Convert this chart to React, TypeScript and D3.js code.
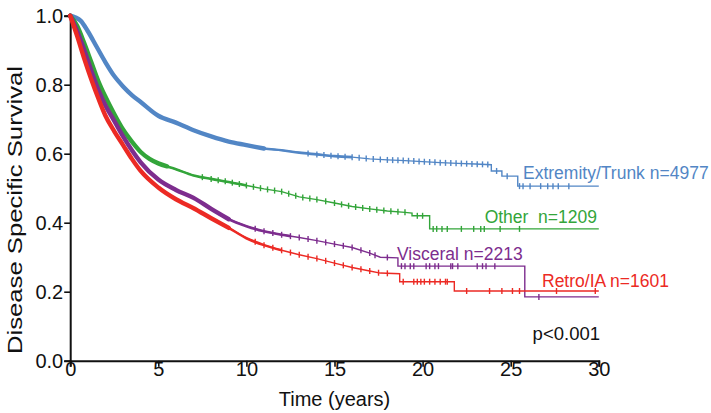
import React, { useRef, useEffect } from "react";
import * as d3 from "d3";

// Kaplan-Meier curves, values
const extremityTime = [0, 0.3, 0.6, 1, 1.5, 2, 2.5, 3, 3.5, 4, 5, 6, 7, 8, 9, 10, 11, 12, 13, 14, 15, 16, 17, 18, 19, 20, 21, 22, 23, 23.9, 23.9, 24.5, 24.5, 25.4, 25.4, 30];
const extremitySurv = [1, 0.995, 0.985, 0.955, 0.91, 0.865, 0.825, 0.795, 0.77, 0.75, 0.71, 0.69, 0.668, 0.65, 0.635, 0.625, 0.615, 0.61, 0.603, 0.598, 0.593, 0.59, 0.585, 0.582, 0.58, 0.577, 0.574, 0.572, 0.57, 0.568, 0.55, 0.55, 0.535, 0.535, 0.506, 0.506];
const extremityCensor = [13.5, 14, 14.4, 14.8, 15.2, 15.6, 16, 16.4, 16.8, 17.2, 17.6, 18, 18.3, 18.6, 18.9, 19.2, 19.5, 19.8, 20.1, 20.4, 20.7, 21, 21.3, 21.6, 21.9, 22.2, 22.5, 22.8, 23.1, 23.4, 23.7, 24.2, 24.8, 25.5, 25.7, 26.1, 26.7, 27.1, 27.4, 27.7, 28.3];

const otherTime = [0, 0.4, 0.8, 1.2, 1.6, 2, 2.5, 3, 3.5, 4, 4.5, 5, 6, 7, 8, 9, 10, 11, 12, 13, 14, 15, 16, 17, 18, 19, 19.4, 19.4, 20.4, 20.4, 30];
const otherSurv = [1, 0.97, 0.92, 0.865, 0.81, 0.765, 0.715, 0.67, 0.635, 0.605, 0.585, 0.572, 0.555, 0.537, 0.527, 0.518, 0.508, 0.498, 0.49, 0.475, 0.467, 0.457, 0.447, 0.44, 0.434, 0.43, 0.428, 0.42, 0.42, 0.382, 0.382];
const otherCensor = [7.5, 8, 8.4, 8.8, 9.2, 9.6, 10, 10.4, 10.8, 11.2, 11.6, 12, 12.4, 12.8, 13.2, 13.6, 14, 14.5, 15, 15.4, 15.8, 16.2, 16.6, 17, 17.4, 17.8, 18.2, 18.6, 19, 19.7, 20, 20.6, 20.8, 21.1, 21.4, 22.2, 22.9, 23.3, 23.5, 24.4, 25.5];

const visceralTime = [0, 0.4, 0.8, 1.2, 1.6, 2, 2.5, 3, 3.5, 4, 5, 6, 7, 8, 9, 10, 11, 12, 13, 14, 15, 16, 17, 17.6, 18.6, 18.6, 25.8, 25.8, 30];
const visceralSurv = [1, 0.955, 0.9, 0.84, 0.785, 0.74, 0.695, 0.65, 0.61, 0.575, 0.525, 0.495, 0.472, 0.44, 0.41, 0.39, 0.375, 0.365, 0.357, 0.348, 0.338, 0.328, 0.312, 0.3, 0.298, 0.274, 0.274, 0.185, 0.185];
const visceralCensor = [10.5, 11, 11.5, 12, 12.5, 13, 13.5, 14, 14.5, 15, 15.5, 16, 16.5, 17, 17.3, 18, 18.8, 19, 19.3, 19.5, 20.2, 20.4, 20.7, 20.9, 21.6, 21.7, 22, 23.1, 23.4, 23.6, 24.1, 26.6];

const retroTime = [0, 0.4, 0.8, 1.2, 1.6, 2, 2.5, 3, 3.5, 4, 5, 6, 7, 8, 9, 10, 11, 12, 13, 14, 15, 16, 17, 17.6, 18.7, 18.7, 21.8, 21.8, 30];
const retroSurv = [1, 0.94, 0.875, 0.815, 0.76, 0.71, 0.665, 0.625, 0.585, 0.55, 0.502, 0.468, 0.442, 0.413, 0.385, 0.355, 0.335, 0.32, 0.307, 0.296, 0.283, 0.27, 0.26, 0.254, 0.252, 0.229, 0.229, 0.202, 0.202];
const retroCensor = [10.5, 11, 11.5, 12, 12.5, 13, 13.5, 14, 14.5, 15, 15.5, 16, 16.5, 17, 17.5, 18, 18.9, 19.5, 19.7, 19.9, 20.1, 20.4, 20.7, 21, 21.3, 21.4, 22.5, 23.8, 24.5, 25.1, 25.5, 27.6, 29.8];

const seriesLabels = ["Extremity/Trunk n=4977", "Other  n=1209", "Visceral n=2213", "Retro/IA n=1601"];
const seriesColors = ["#5286c5", "#33a53a", "#7d2d8e", "#ec2a24"];
// where the censor marks stop merging into a solid band
const denseUntil = [11, 5.5, 9, 9];
const bandUntil = [16, 10, 12.5, 12];

const xTicks = [0, 5, 10, 15, 20, 25, 30];
const yTicks = [0, 0.2, 0.4, 0.6, 0.8, 1.0];

const FONT = "'Liberation Sans', Arial, Helvetica, sans-serif";

const survAt = (times: number[], surv: number[], t: number) => {
	const i = Math.max(0, d3.bisectRight(times, t) - 1);
	if (i >= times.length - 1) return surv[times.length - 1];
	const f = (t - times[i]) / (times[i + 1] - times[i]);
	return surv[i] + f * (surv[i + 1] - surv[i]);
};

const App = () => {
	const svgRef = useRef<SVGSVGElement | null>(null);

	useEffect(() => {
		if (!svgRef.current) return;
		const svg = d3.select(svgRef.current);
		svg.selectAll("*").remove();

		const width = 711;
		const height = 413;
		svg.attr("width", width).attr("height", height);

		const x = d3.scaleLinear().domain([0, 30]).range([70.2, 598.8]);
		const y = d3.scaleLinear().domain([0, 1]).range([360.7, 15.7]);

		const series = [
			{ time: extremityTime, surv: extremitySurv, censor: extremityCensor },
			{ time: otherTime, surv: otherSurv, censor: otherCensor },
			{ time: visceralTime, surv: visceralSurv, censor: visceralCensor },
			{ time: retroTime, surv: retroSurv, censor: retroCensor },
		];

		const line = d3
			.line<[number, number]>()
			.x((d) => x(d[0]))
			.y((d) => y(d[1]));
		const smooth = d3
			.line<[number, number]>()
			.x((d) => x(d[0]))
			.y((d) => y(d[1]))
			.curve(d3.curveMonotoneX);

		// axes
		const yAxis = svg
			.append("g")
			.attr("transform", `translate(${x(0)},0)`)
			.call(
				d3
					.axisLeft(y)
					.tickValues(yTicks)
					.tickFormat(d3.format(".1f"))
					.tickSize(6)
					.tickPadding(1)
			);
		const xAxis = svg
			.append("g")
			.attr("transform", `translate(0,${y(0)})`)
			.call(d3.axisBottom(x).tickValues(xTicks).tickSize(6).tickPadding(0));

		[yAxis, xAxis].forEach((ax) => {
			ax.select(".domain").attr("stroke", "#111").attr("stroke-width", 2);
			ax.selectAll(".tick line").attr("stroke", "#111").attr("stroke-width", 1.6);
			ax.selectAll("text")
				.attr("fill", "#111")
				.style("font-family", FONT)
				.style("font-size", "20px");
		});
		xAxis.selectAll(".tick text").attr("y", 15).attr("dy", 0);

		// curves
		series.forEach((s, k) => {
			const pts: [number, number][] = s.time.map((t, i) => [t, s.surv[i]]);
			const upTo = (cut: number) => {
				const part: [number, number][] = pts.filter((p) => p[0] < cut);
				part.push([cut, survAt(s.time, s.surv, cut)]);
				return part;
			};

			svg.append("path")
				.attr("d", line(pts))
				.attr("fill", "none")
				.attr("stroke", seriesColors[k])
				.attr("stroke-width", 1.4);

			svg.append("path")
				.attr("d", smooth(upTo(bandUntil[k])))
				.attr("fill", "none")
				.attr("stroke", seriesColors[k])
				.attr("stroke-width", 2.6)
				.attr("stroke-linejoin", "round");

			svg.append("path")
				.attr("d", smooth(upTo(denseUntil[k])))
				.attr("fill", "none")
				.attr("stroke", seriesColors[k])
				.attr("stroke-width", 4.4)
				.attr("stroke-linecap", "round")
				.attr("stroke-linejoin", "round");

			svg.append("g")
				.selectAll("line")
				.data(s.censor)
				.join("line")
				.attr("x1", (t) => x(t))
				.attr("x2", (t) => x(t))
				.attr("y1", (t) => y(survAt(s.time, s.surv, t)) - 3)
				.attr("y2", (t) => y(survAt(s.time, s.surv, t)) + 3)
				.attr("stroke", seriesColors[k])
				.attr("stroke-width", 1.4);
		});

		// series labels
		const labelPos = [
			{ x: 523, y: 179, anchor: "start" },
			{ x: 597, y: 223, anchor: "end" },
			{ x: 397, y: 260, anchor: "start" },
			{ x: 542, y: 287, anchor: "start" },
		];
		seriesLabels.forEach((lab, k) => {
			svg.append("text")
				.attr("x", labelPos[k].x)
				.attr("y", labelPos[k].y)
				.attr("text-anchor", labelPos[k].anchor)
				.style("white-space", "pre")
				.style("font-family", FONT)
				.style("font-size", "17.5px")
				.attr("fill", seriesColors[k])
				.text(lab);
		});

		svg.append("text")
			.attr("x", 600)
			.attr("y", 340)
			.attr("text-anchor", "end")
			.style("font-family", FONT)
			.style("font-size", "18.5px")
			.attr("fill", "#111")
			.text("p<0.001");

		// axis titles
		svg.append("text")
			.attr("x", x(15))
			.attr("y", 406)
			.attr("text-anchor", "middle")
			.style("font-family", FONT)
			.style("font-size", "20px")
			.attr("fill", "#111")
			.text("Time (years)");

		svg.append("text")
			.attr("transform", "translate(22,210) rotate(-90)")
			.attr("text-anchor", "middle")
			.attr("textLength", 288)
			.attr("lengthAdjust", "spacingAndGlyphs")
			.style("font-family", FONT)
			.style("font-size", "21px")
			.attr("fill", "#111")
			.text("Disease Specific Survival");
	}, []);

	return (
		<div style={{ position: "absolute", left: 0, top: 0, width: 711, height: 413, background: "#fff" }}>
			<svg ref={svgRef} style={{ display: "block" }}></svg>
		</div>
	);
};

export default App;
